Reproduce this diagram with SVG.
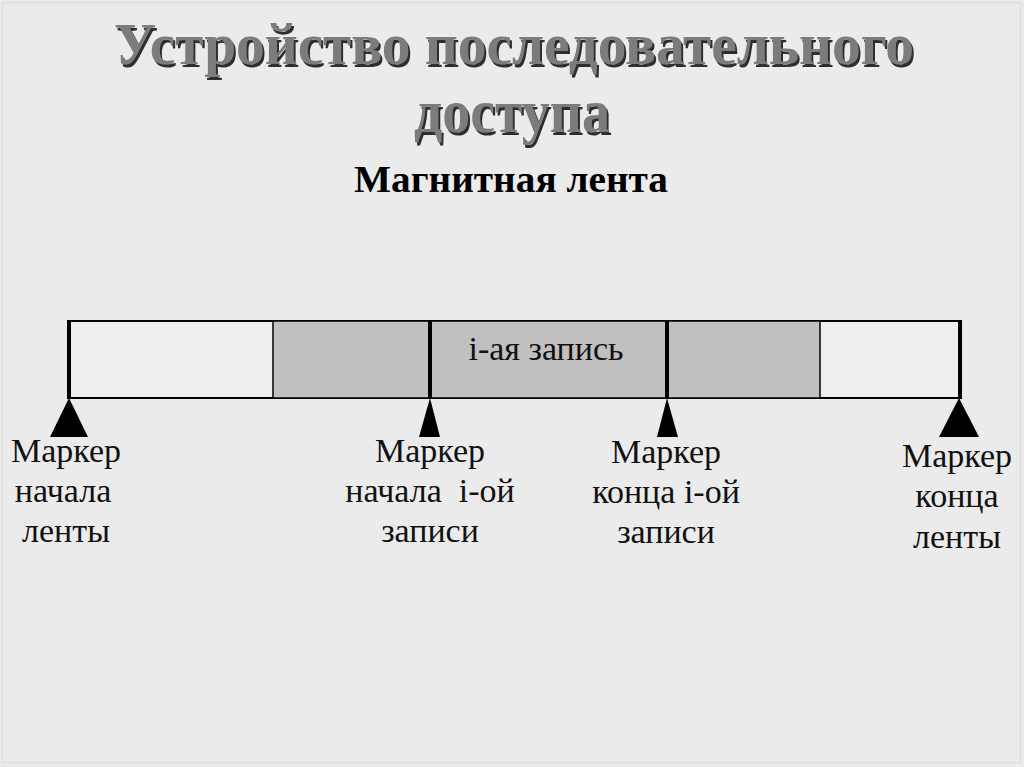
<svg xmlns="http://www.w3.org/2000/svg" width="1024" height="767" viewBox="0 0 1024 767">
<defs>
<filter id="emboss" x="-5%" y="-20%" width="110%" height="150%">
<feOffset in="SourceAlpha" dx="2" dy="3" result="off"/>
<feFlood flood-color="#2e2e2e"/>
<feComposite in2="off" operator="in" result="shadow"/>
<feMerge><feMergeNode in="shadow"/><feMergeNode in="SourceGraphic"/></feMerge>
</filter>
</defs>
<style>
.title{font-family:"Liberation Serif","DejaVu Serif",serif;font-weight:bold;text-anchor:middle}
.t-main{fill:#7c7c7c}
.lbl{font-family:"Liberation Serif","DejaVu Serif",serif;font-size:34px;fill:#111;text-anchor:middle}
.thick{stroke:#000;stroke-width:4}
.tri{fill:#000}
</style>
<rect x="0" y="0" width="1024" height="767" fill="#ebebeb"/>
<rect x="2.5" y="2.5" width="1018" height="760" fill="none" stroke="#dcdcdc" stroke-width="1"/>

<g id="title" filter="url(#emboss)">
<text class="title t-main" x="514" y="64" font-size="60" textLength="800" lengthAdjust="spacingAndGlyphs">Устройство последовательного</text>
<text class="title t-main" x="512" y="132" font-size="62" textLength="196" lengthAdjust="spacingAndGlyphs">доступа</text>
</g>

<g id="subtitle">
<text class="title" x="511" y="192" font-size="37" fill="#000" textLength="314" lengthAdjust="spacingAndGlyphs">Магнитная лента</text>
</g>

<g id="tape">
<rect x="69" y="321" width="891" height="77" fill="#eeeeee" stroke="#000" stroke-width="2"/>
<rect x="273" y="321" width="547" height="77" fill="#c0c0c0" stroke="#000" stroke-width="1.5"/>
<line class="thick" x1="69" y1="320" x2="69" y2="399"/>
<line class="thick" x1="430" y1="320" x2="430" y2="399"/>
<line class="thick" x1="667" y1="320" x2="667" y2="399"/>
<line class="thick" x1="960" y1="320" x2="960" y2="399"/>
<text class="lbl" x="546" y="360">i-ая запись</text>
</g>

<g id="connectors">
<polygon class="tri" points="69,398 50,437 88,437"/>
<polygon class="tri" points="430,398 419,437 440,437"/>
<polygon class="tri" points="667,398 657,437 678,437"/>
<polygon class="tri" points="959,398 939,437 979,437"/>
</g>

<g id="marker-tape-start">
<text class="lbl" x="66" y="462">Маркер</text>
<text class="lbl" x="63" y="502">начала</text>
<text class="lbl" x="66" y="542">ленты</text>
</g>
<g id="marker-record-start">
<text class="lbl" x="430" y="462">Маркер</text>
<text class="lbl" x="430" y="502" xml:space="preserve">начала  i-ой</text>
<text class="lbl" x="430" y="542">записи</text>
</g>
<g id="marker-record-end">
<text class="lbl" x="666" y="463">Маркер</text>
<text class="lbl" x="666" y="503">конца i-ой</text>
<text class="lbl" x="666" y="543">записи</text>
</g>
<g id="marker-tape-end">
<text class="lbl" x="957" y="467">Маркер</text>
<text class="lbl" x="957" y="507">конца</text>
<text class="lbl" x="957" y="548">ленты</text>
</g>
</svg>
